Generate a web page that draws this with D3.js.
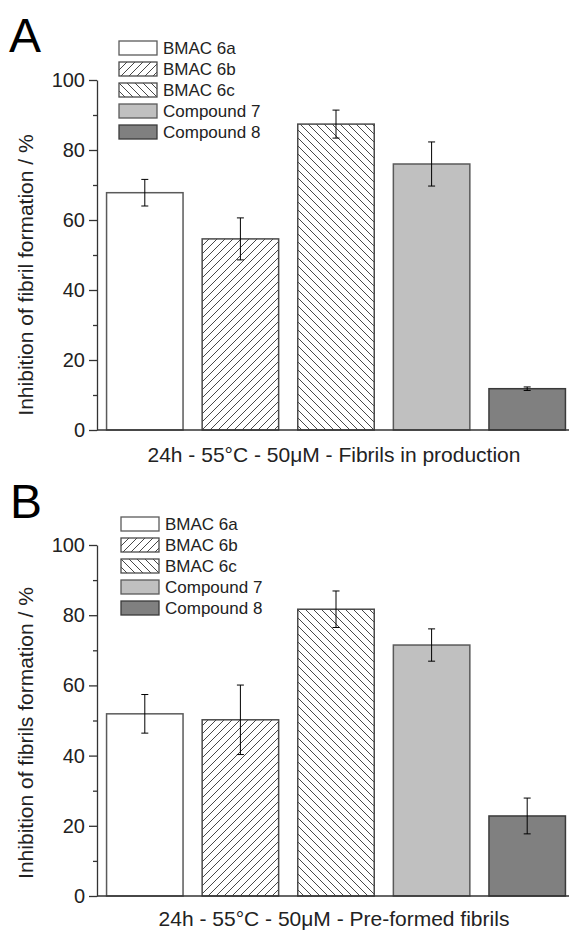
<!DOCTYPE html>
<html>
<head>
<meta charset="utf-8">
<script src="https://cdn.jsdelivr.net/npm/d3@7"></script>
<style>
  body { margin: 0; background: #fff; }
  svg text { font-family: "Liberation Sans", Arial, sans-serif; fill: #222; }
</style>
</head>
<body>
<div id="chart"></div>
<script>
const width = 569;
const height = 932;

const categories = ["BMAC 6a", "BMAC 6b", "BMAC 6c", "Compound 7", "Compound 8"];
const valuesA = [67.8, 54.6, 87.4, 76.0, 11.8];
const errorsA = [3.8, 6.0, 4.0, 6.3, 0.5];
const valuesB = [51.9, 50.2, 81.7, 71.5, 22.8];
const errorsB = [5.5, 9.9, 5.2, 4.6, 5.1];
const yTicks = [0, 20, 40, 60, 80, 100];
const yMinorTicks = [10, 30, 50, 70, 90];

const fills = ["#ffffff", "url(#hatchFwd)", "url(#hatchBack)", "#c0c0c0", "#808080"];
const strokes = ["#5a5a5a", "#4a4a4a", "#4a4a4a", "#5a5a5a", "#3a3a3a"];

const svg = d3.select("#chart").append("svg")
    .attr("width", width)
    .attr("height", height);

// hatch patterns
const defs = svg.append("defs");
defs.append("pattern")
    .attr("id", "hatchFwd")
    .attr("patternUnits", "userSpaceOnUse")
    .attr("width", 8).attr("height", 8)
    .call(p => {
        p.append("rect").attr("width", 8).attr("height", 8).attr("fill", "#fff");
        p.append("path").attr("d", "M-2,2 L2,-2 M0,8 L8,0 M6,10 L10,6")
            .attr("stroke", "#333").attr("stroke-width", 0.9);
    });
defs.append("pattern")
    .attr("id", "hatchBack")
    .attr("patternUnits", "userSpaceOnUse")
    .attr("width", 8).attr("height", 8)
    .call(p => {
        p.append("rect").attr("width", 8).attr("height", 8).attr("fill", "#fff");
        p.append("path").attr("d", "M-2,6 L2,10 M0,0 L8,8 M6,-2 L10,2")
            .attr("stroke", "#333").attr("stroke-width", 0.9);
    });

const x = d3.scaleBand()
    .domain(categories)
    .range([97, 575])
    .paddingInner(0.2)
    .paddingOuter(0.1);

function drawPanel(cfg) {
    const g = svg.append("g");
    const y = d3.scaleLinear().domain([0, 100]).range([cfg.bottom, cfg.top]);

    // panel letter
    g.append("text")
        .attr("x", cfg.letterX)
        .attr("y", cfg.letterY)
        .style("font-size", "48px")
        .style("fill", "#000")
        .text(cfg.letter);

    // bars
    g.selectAll("rect.bar").data(cfg.values)
        .join("rect")
        .attr("class", "bar")
        .attr("x", (d, i) => x(categories[i]))
        .attr("y", d => y(d))
        .attr("width", x.bandwidth())
        .attr("height", d => y(0) - y(d))
        .attr("fill", (d, i) => fills[i])
        .attr("stroke", (d, i) => strokes[i])
        .attr("stroke-width", 1.5);

    // error bars
    const eb = g.selectAll("g.err").data(cfg.values)
        .join("g")
        .attr("class", "err")
        .attr("transform", (d, i) => `translate(${x(categories[i]) + x.bandwidth() / 2},0)`);
    eb.append("line")
        .attr("y1", (d, i) => y(d + cfg.errors[i]))
        .attr("y2", (d, i) => y(d - cfg.errors[i]))
        .attr("stroke", "#000").attr("stroke-width", 1);
    eb.append("line")
        .attr("x1", -3.5).attr("x2", 3.5)
        .attr("y1", (d, i) => y(d + cfg.errors[i]))
        .attr("y2", (d, i) => y(d + cfg.errors[i]))
        .attr("stroke", "#000").attr("stroke-width", 1);
    eb.append("line")
        .attr("x1", -3.5).attr("x2", 3.5)
        .attr("y1", (d, i) => y(d - cfg.errors[i]))
        .attr("y2", (d, i) => y(d - cfg.errors[i]))
        .attr("stroke", "#000").attr("stroke-width", 1);

    // y axis
    const yAxis = g.append("g")
        .attr("transform", "translate(97,0)")
        .call(d3.axisLeft(y).tickValues(yTicks).tickSize(8).tickPadding(4).tickSizeOuter(0));
    yAxis.select(".domain").attr("stroke", "#333").attr("stroke-width", 1.3);
    yAxis.selectAll(".tick line").attr("stroke", "#333").attr("stroke-width", 1.3);
    yAxis.selectAll(".tick text")
        .style("font-size", "20px")
        .style("font-family", "'Liberation Sans', Arial, sans-serif")
        .attr("fill", "#222");
    g.append("g")
        .attr("transform", "translate(97,0)")
        .call(d3.axisLeft(y).tickValues(yMinorTicks).tickSize(4).tickFormat(""))
        .call(a => a.select(".domain").remove())
        .selectAll(".tick line").attr("stroke", "#333").attr("stroke-width", 1.3);

    // x axis line
    g.append("line")
        .attr("x1", 97).attr("x2", width)
        .attr("y1", y(0)).attr("y2", y(0))
        .attr("stroke", "#333").attr("stroke-width", 1.3);

    // axis titles
    g.append("text")
        .attr("transform", `translate(33,${cfg.yLabelCenter}) rotate(-90)`)
        .attr("text-anchor", "middle")
        .style("font-size", "21px")
        .text(cfg.yLabel);
    g.append("text")
        .attr("x", 334)
        .attr("y", cfg.xLabelY)
        .attr("text-anchor", "middle")
        .style("font-size", "21px")
        .text(cfg.xLabel);

    // legend
    const leg = g.selectAll("g.legend").data(categories)
        .join("g")
        .attr("class", "legend")
        .attr("transform", (d, i) => `translate(${cfg.legendX},${cfg.legendY + i * 21})`);
    leg.append("rect")
        .attr("width", 38).attr("height", 14)
        .attr("fill", (d, i) => fills[i])
        .attr("stroke", (d, i) => strokes[i])
        .attr("stroke-width", 1.3);
    leg.append("text")
        .attr("x", 44).attr("y", 13)
        .style("font-size", "17px")
        .text(d => d);
}

drawPanel({
    letter: "A", letterX: 9, letterY: 52,
    values: valuesA, errors: errorsA,
    top: 80, bottom: 430,
    yLabel: "Inhibition of fibril formation / %", yLabelCenter: 275,
    xLabel: "24h - 55°C - 50μM - Fibrils in production", xLabelY: 462,
    legendX: 119, legendY: 41
});

drawPanel({
    letter: "B", letterX: 10, letterY: 518,
    values: valuesB, errors: errorsB,
    top: 545, bottom: 896,
    yLabel: "Inhibition of fibrils formation / %", yLabelCenter: 733,
    xLabel: "24h - 55°C - 50μM - Pre-formed fibrils", xLabelY: 926,
    legendX: 121, legendY: 517
});
</script>
</body>
</html>
